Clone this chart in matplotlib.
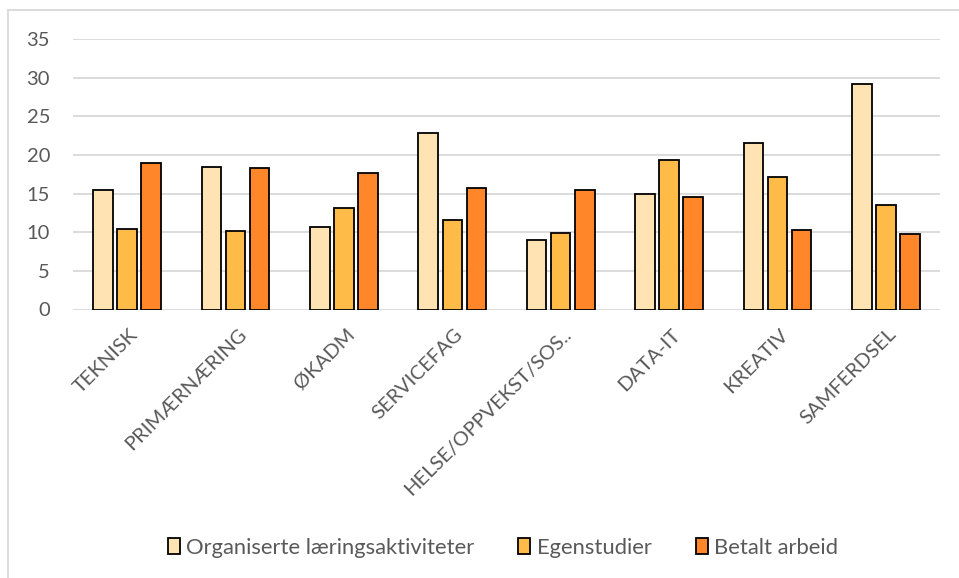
import matplotlib.pyplot as plt
import numpy as np
from matplotlib.lines import Line2D
from matplotlib.patches import Patch
import matplotlib.transforms as mtransforms

plt.rcParams['font.family'] = ['Lato', 'DejaVu Sans']

categories = ["TEKNISK", "PRIMÆRNÆRING", "ØKADM", "SERVICEFAG",
              "HELSE/OPPVEKST/SOS..", "DATA-IT", "KREATIV", "SAMFERDSEL"]
organiserte = [15.5, 18.5, 10.7, 22.9, 9.0, 15.0, 21.5, 29.2]
egenstudier = [10.4, 10.2, 13.1, 11.6, 9.9, 19.3, 17.2, 13.5]
betalt = [18.9, 18.3, 17.7, 15.7, 15.5, 14.5, 10.3, 9.8]
series_names = ["Organiserte læringsaktiviteter", "Egenstudier", "Betalt arbeid"]
colors = ["#FFE3B3", "#FFBB48", "#FF8729"]
yticks = [0, 5, 10, 15, 20, 25, 30, 35]

W, H = 959, 578
fig = plt.figure(figsize=(W / 100, H / 100), dpi=100)
ax = fig.add_axes([73 / W, 1 - 309.5 / H, (940 - 73) / W, (309.5 - 39) / H])

x = np.arange(len(categories))
bw = 0.18
pitch = 0.222
for i, (vals, c) in enumerate(zip([organiserte, egenstudier, betalt], colors)):
    ax.bar(x + (i - 1) * pitch, vals, width=bw, color=c, edgecolor="black",
           linewidth=1.3, zorder=3, label=series_names[i])

ax.set_xlim(-0.5, len(categories) - 0.5)
ax.set_ylim(0, 35)
ax.set_yticks(yticks)
ax.yaxis.grid(True, color="#D9D9D9", linewidth=1.3, zorder=0)
ax.set_axisbelow(True)
for s in ax.spines.values():
    s.set_visible(False)
ax.tick_params(axis="y", length=0, pad=16.5, labelsize=14.5, labelcolor="#595959")
ax.tick_params(axis="x", length=0)
ax.set_xticks(x)
ax.set_xticklabels([])

offset = mtransforms.ScaledTranslation(8 / 100, -22 / 100, fig.dpi_scale_trans)
for xi, lab in zip(x, categories):
    ax.text(xi, 0, lab, rotation=45, rotation_mode="anchor", ha="right", va="center",
            fontsize=14.5, color="#595959",
            transform=ax.get_xaxis_transform() + offset)

handles = [Patch(facecolor=c, edgecolor="black", linewidth=1.3) for c in colors]
fig.legend(handles, series_names, loc="center", bbox_to_anchor=(503 / W, 1 - 548 / H),
           ncol=3, frameon=False, fontsize=15.8, labelcolor="#595959",
           handlelength=0.55, handleheight=0.75, handletextpad=0.3, columnspacing=2.0)

# chart area border (top and left edges visible)
fig.add_artist(Line2D([8 / W, 1], [1 - 10 / H, 1 - 10 / H], color="#D9D9D9", linewidth=1.3))
fig.add_artist(Line2D([8 / W, 8 / W], [0, 1 - 10 / H], color="#D9D9D9", linewidth=1.3))

fig.savefig("out.png", dpi=100)
